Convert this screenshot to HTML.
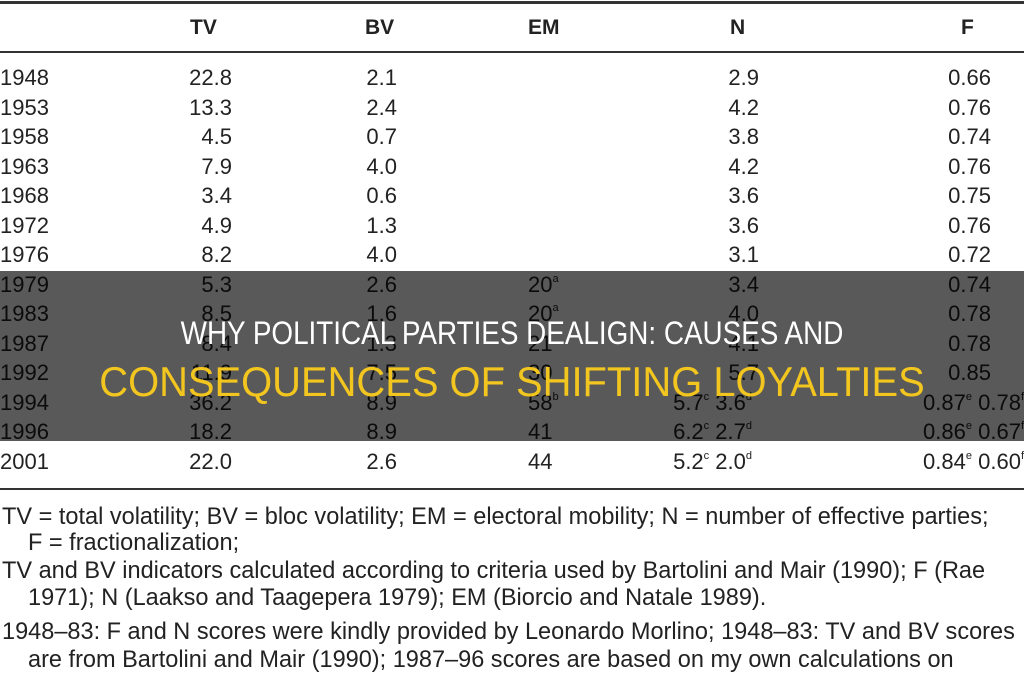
<!DOCTYPE html>
<html><head><meta charset="utf-8"><style>
body{margin:0;width:1024px;height:680px;overflow:hidden;background:#fff;font-family:"Liberation Sans",Arial,sans-serif;color:#222;position:relative}
.a{position:absolute;white-space:nowrap;font-size:22px;line-height:22px}
.hd{font-weight:bold;font-size:21px}
sup{font-size:11px;vertical-align:top;line-height:11px}
.fn{position:absolute;left:2px;font-size:24px;line-height:26px;white-space:nowrap;color:#222;transform:scaleX(0.98);transform-origin:0 0}
</style></head><body>
<div style="position:absolute;left:0;top:1px;width:1024px;height:3px;background:#333"></div>
<div style="position:absolute;left:0;top:51px;width:1024px;height:2px;background:#333"></div>
<div style="position:absolute;left:0;top:488px;width:1024px;height:2px;background:#333"></div>
<div id="tbl"></div>
<div class="fn" style="top:504px">TV = total volatility; BV = bloc volatility; EM = electoral mobility; N = number of effective parties;</div>
<div class="fn" style="top:530px;left:28px">F = fractionalization;</div>
<div class="fn" style="top:558px">TV and BV indicators calculated according to criteria used by Bartolini and Mair (1990); F (Rae</div>
<div class="fn" style="top:585px;left:28px">1971); N (Laakso and Taagepera 1979); EM (Biorcio and Natale 1989).</div>
<div class="fn" style="top:619px">1948–83: F and N scores were kindly provided by Leonardo Morlino; 1948–83: TV and BV scores</div>
<div class="fn" style="top:647px;left:28px">are from Bartolini and Mair (1990); 1987–96 scores are based on my own calculations on</div>
<div style="position:absolute;left:0;top:271px;width:1024px;height:170px;background:rgba(0,0,0,0.65)"></div>
<div style="position:absolute;left:0;width:1024px;top:315px;text-align:center;color:#fff;font-size:32px;line-height:36px;transform:scaleX(0.87);transform-origin:512px 0">WHY POLITICAL PARTIES DEALIGN: CAUSES AND</div>
<div style="position:absolute;left:0;width:1024px;top:359px;text-align:center;color:#f2c61f;font-size:42px;line-height:46px;transform:scaleX(0.95);transform-origin:512px 0">CONSEQUENCES OF SHIFTING LOYALTIES</div>
<script>
const years=["1948","1953","1958","1963","1968","1972","1976","1979","1983","1987","1992","1994","1996","2001"];
const tv=["22.8","13.3","4.5","7.9","3.4","4.9","8.2","5.3","8.5","8.4","11.9","36.2","18.2","22.0"];
const bv=["2.1","2.4","0.7","4.0","0.6","1.3","4.0","2.6","1.6","1.3","7.5","8.9","8.9","2.6"];
const em=["","","","","","","","20<sup>a</sup>","20<sup>a</sup>","21","30","58<sup>b</sup>","41","44"];
const nn=["2.9","4.2","3.8","4.2","3.6","3.6","3.1","3.4","4.0","4.1","5.7","5.7<sup>c</sup> 3.6<sup>d</sup>","6.2<sup>c</sup> 2.7<sup>d</sup>","5.2<sup>c</sup> 2.0<sup>d</sup>"];
const ff=["0.66","0.76","0.74","0.76","0.75","0.76","0.72","0.74","0.78","0.78","0.85","0.87<sup>e</sup> 0.78<sup>f</sup>","0.86<sup>e</sup> 0.67<sup>f</sup>","0.84<sup>e</sup> 0.60<sup>f</sup>"];
const t=document.getElementById('tbl');
function cell(html,style,name){const d=document.createElement('div');d.className='a';d.innerHTML=html;d.style.cssText=style;


t.appendChild(d);}
cell('TV','left:190px;top:17px','header-tv');t.lastChild.classList.add('hd');
cell('BV','left:365px;top:17px','header-bv');t.lastChild.classList.add('hd');
cell('EM','left:528px;top:17px','header-em');t.lastChild.classList.add('hd');
cell('N','left:730px;top:17px','header-n');t.lastChild.classList.add('hd');
cell('F','left:961px;top:17px','header-f');t.lastChild.classList.add('hd');
years.forEach((y,i)=>{const top=67+i*29.5;
cell(y,'left:0px;top:'+top+'px','year-cell');
cell(tv[i],'right:792px;top:'+top+'px','tv-cell');
cell(bv[i],'right:627px;top:'+top+'px','bv-cell');
cell(em[i],'left:528px;top:'+top+'px','em-cell');
cell(nn[i],'right:'+(i>=11?272:265)+'px;top:'+top+'px','n-cell');
cell(ff[i],'right:'+(i>=11?0:33)+'px;top:'+top+'px','f-cell');
});
</script>
</body></html>
